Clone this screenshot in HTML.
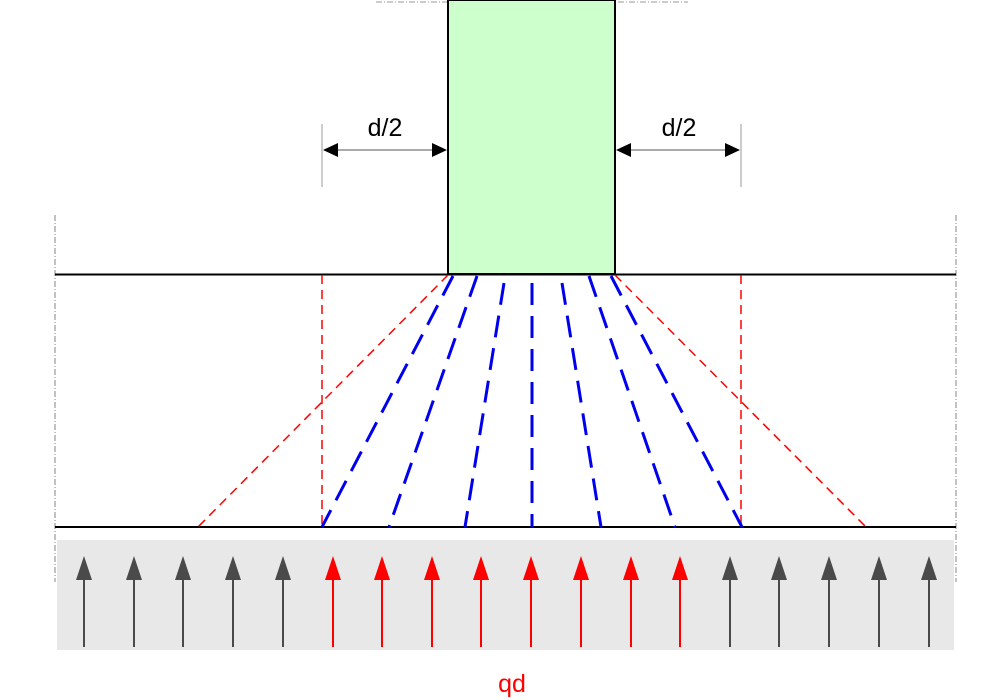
<!DOCTYPE html>
<html><head><style>html,body{margin:0;padding:0;background:#fff;}svg{display:block}</style></head>
<body>
<svg width="1000" height="700" viewBox="0 0 1000 700" xmlns="http://www.w3.org/2000/svg">
<line x1="376" y1="2" x2="688" y2="2" stroke="#999" stroke-width="1" stroke-dasharray="6,2,1,2"/>
<line x1="55" y1="215" x2="55" y2="582" stroke="#999" stroke-width="1.2" stroke-dasharray="6,2,1,2"/>
<line x1="956" y1="215" x2="956" y2="582" stroke="#999" stroke-width="1.2" stroke-dasharray="6,2,1,2"/>
<rect x="57" y="540" width="897" height="110" fill="#e8e8e8"/>
<rect x="448" y="0" width="167" height="274" fill="#ccffcc" stroke="#000" stroke-width="2"/>
<line x1="55" y1="274.5" x2="956" y2="274.5" stroke="#000" stroke-width="2"/>
<line x1="55" y1="527" x2="956" y2="527" stroke="#000" stroke-width="2"/>
<g stroke="#ff0000" stroke-width="1.5" stroke-dasharray="9,6" fill="none">
<line x1="448" y1="275" x2="198" y2="527"/>
<line x1="615" y1="275" x2="866" y2="527"/>
<line x1="322" y1="275" x2="322" y2="527"/>
<line x1="741" y1="275" x2="741" y2="527"/>
</g>
<g stroke="#0000ee" stroke-width="3" stroke-dasharray="22,11" fill="none">
<line x1="453" y1="276" x2="322" y2="527"/>
<line x1="477" y1="276" x2="389" y2="527"/>
<line x1="504" y1="283" x2="465" y2="527"/>
<line x1="532" y1="283" x2="532" y2="527"/>
<line x1="562" y1="283" x2="601" y2="527"/>
<line x1="589" y1="276" x2="675" y2="527"/>
<line x1="611" y1="276" x2="742" y2="527"/>
</g>
<g stroke="#999" stroke-width="1">
<line x1="322" y1="124" x2="322" y2="187"/>
<line x1="741" y1="124" x2="741" y2="187"/>
</g>
<g stroke="#555" stroke-width="1">
<line x1="324" y1="150" x2="446" y2="150"/>
<line x1="617" y1="150" x2="739" y2="150"/>
</g>
<path d="M323,150 L338,143 L338,157z M447,150 L432,143 L432,157z M616,150 L631,143 L631,157z M740,150 L725,143 L725,157z" fill="#000"/>
<text x="385" y="136" font-family="Liberation Sans, sans-serif" font-size="25" text-anchor="middle" fill="#000">d/2</text>
<text x="679" y="136" font-family="Liberation Sans, sans-serif" font-size="25" text-anchor="middle" fill="#000">d/2</text>
<g fill="#4a4a4a" stroke="#4a4a4a" stroke-width="2">
<line x1="84" y1="580" x2="84" y2="647"/><path d="M76,580 L92,580 L84,556z" stroke="none"/>
<line x1="134" y1="580" x2="134" y2="647"/><path d="M126,580 L142,580 L134,556z" stroke="none"/>
<line x1="183" y1="580" x2="183" y2="647"/><path d="M175,580 L191,580 L183,556z" stroke="none"/>
<line x1="233" y1="580" x2="233" y2="647"/><path d="M225,580 L241,580 L233,556z" stroke="none"/>
<line x1="283" y1="580" x2="283" y2="647"/><path d="M275,580 L291,580 L283,556z" stroke="none"/>
<line x1="730" y1="580" x2="730" y2="647"/><path d="M722,580 L738,580 L730,556z" stroke="none"/>
<line x1="779" y1="580" x2="779" y2="647"/><path d="M771,580 L787,580 L779,556z" stroke="none"/>
<line x1="829" y1="580" x2="829" y2="647"/><path d="M821,580 L837,580 L829,556z" stroke="none"/>
<line x1="879" y1="580" x2="879" y2="647"/><path d="M871,580 L887,580 L879,556z" stroke="none"/>
<line x1="929" y1="580" x2="929" y2="647"/><path d="M921,580 L937,580 L929,556z" stroke="none"/>
</g>
<g fill="#ff0000" stroke="#ff0000" stroke-width="2">
<line x1="333" y1="580" x2="333" y2="647"/><path d="M325,580 L341,580 L333,556z" stroke="none"/>
<line x1="382" y1="580" x2="382" y2="647"/><path d="M374,580 L390,580 L382,556z" stroke="none"/>
<line x1="432" y1="580" x2="432" y2="647"/><path d="M424,580 L440,580 L432,556z" stroke="none"/>
<line x1="481" y1="580" x2="481" y2="647"/><path d="M473,580 L489,580 L481,556z" stroke="none"/>
<line x1="531" y1="580" x2="531" y2="647"/><path d="M523,580 L539,580 L531,556z" stroke="none"/>
<line x1="581" y1="580" x2="581" y2="647"/><path d="M573,580 L589,580 L581,556z" stroke="none"/>
<line x1="631" y1="580" x2="631" y2="647"/><path d="M623,580 L639,580 L631,556z" stroke="none"/>
<line x1="680" y1="580" x2="680" y2="647"/><path d="M672,580 L688,580 L680,556z" stroke="none"/>
</g>
<text x="512" y="692" font-family="Liberation Sans, sans-serif" font-size="25" text-anchor="middle" fill="#ff0000">qd</text>
</svg>
</body></html>
